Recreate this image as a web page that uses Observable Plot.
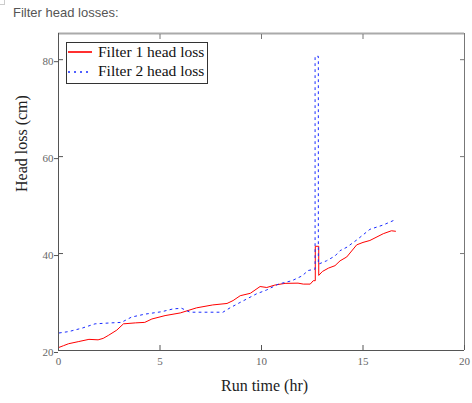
<!DOCTYPE html>
<html><head><meta charset="utf-8">
<script src="https://cdn.jsdelivr.net/npm/d3@7"></script>
<script src="https://cdn.jsdelivr.net/npm/@observablehq/plot@0.6"></script>
<style>
body{margin:0;background:#fff;width:472px;height:403px;overflow:hidden;position:relative}
#corner{position:absolute;left:0;top:0;width:4px;height:4px;border-right:1px solid #ccc;border-bottom:1px solid #ccc}
#title{position:absolute;left:13px;top:5px;font:13px "Liberation Sans",Arial,sans-serif;color:#555}
#chart{position:absolute;left:0;top:26px}
#legend{position:absolute;left:66px;top:42px;width:140px;height:40px;border:1px solid #333;background:#fff;font-family:"Liberation Serif",serif;font-size:15.5px;color:#111}
.sw{position:absolute;left:1px;width:24px;height:2px}
.lt{position:absolute;left:31px;line-height:18px;white-space:nowrap}
</style></head>
<body>
<div id="corner"></div>
<div id="title">Filter head losses:</div>
<div id="chart"></div>
<div id="legend"></div>
<script>
const titleText = "Filter head losses:";
const seriesNames = ["Filter 1 head loss", "Filter 2 head loss"];
const seriesColors = ["#ff0000", "#1a2cff"];
const swatchColors = ["#ff3030", "#5060ff"];
const xLabel = "Run time (hr)";
const yLabel = "Head loss (cm)";
const xTicks = [0, 5, 10, 15, 20];
const yTicks = [20, 40, 60, 80];
const xDomain = [0, 20];
const yDomain = [20, 85.4];

const filter1Time = [0, 0, 0.25, 0.5, 1.0, 1.5, 1.95, 2.2, 2.45, 2.87, 3.2, 3.8, 4.25, 4.6, 5.25, 6.0, 6.8, 7.6, 8.3, 8.6, 8.95, 9.45, 9.93, 10.26, 10.66, 11.16, 11.8, 12.06, 12.4, 12.55, 12.65, 12.65, 12.82, 12.82, 13.0, 13.3, 13.62, 13.87, 14.2, 14.69, 15.0, 15.34, 16.0, 16.4, 16.6];
const filter1Loss = [42, 20.6, 21.0, 21.4, 21.85, 22.3, 22.2, 22.5, 23.1, 24.2, 25.5, 25.7, 25.8, 26.5, 27.2, 27.75, 28.8, 29.4, 29.7, 30.3, 31.3, 31.8, 33.2, 33.0, 33.5, 33.85, 33.9, 33.7, 33.7, 34.4, 34.4, 41.5, 41.5, 35.5, 36.3, 37.0, 37.5, 38.5, 39.3, 41.8, 42.3, 42.7, 44.1, 44.7, 44.6];

const filter2Time = [0, 0, 0.5, 1.15, 1.8, 2.6, 3.1, 3.6, 4.26, 5.08, 5.66, 6.07, 6.48, 8.1, 8.45, 8.94, 9.76, 10.26, 10.83, 11.5, 12.0, 12.3, 12.64, 12.64, 12.8, 12.8, 13.2, 13.62, 13.87, 14.2, 14.69, 15.34, 16.0, 16.6];
const filter2Loss = [42, 23.6, 23.9, 24.6, 25.5, 25.7, 25.8, 26.9, 27.5, 28.0, 28.6, 28.7, 27.9, 27.9, 28.8, 29.9, 31.7, 32.5, 33.7, 34.4, 35.4, 36.5, 36.8, 80.7, 80.7, 37.8, 38.5, 39.5, 40.6, 41.3, 42.8, 45.0, 45.9, 47.0];

const filter1 = filter1Time.map((t, i) => ({t, v: filter1Loss[i]}));
const filter2 = filter2Time.map((t, i) => ({t, v: filter2Loss[i]}));

document.getElementById("title").textContent = titleText;

const blank = () => "";
const chart = Plot.plot({
  width: 472, height: 377,
  marginTop: 7, marginBottom: 53, marginLeft: 58, marginRight: 8,
  x: {domain: xDomain},
  y: {domain: yDomain},
  style: {fontFamily: "'Liberation Serif', 'Times New Roman', serif", background: "white", overflow: "visible"},
  marks: [
    Plot.ruleY([yDomain[1]], {stroke: "#aaa", strokeWidth: 2}),
    Plot.ruleX([xDomain[1]], {stroke: "#777"}),
    Plot.line(filter1, {x: "t", y: "v", stroke: seriesColors[0], strokeWidth: 1}),
    Plot.line(filter2, {x: "t", y: "v", stroke: seriesColors[1], strokeWidth: 1, strokeDasharray: "2,4"}),
    Plot.ruleX([xDomain[0]], {stroke: "#555"}),
    Plot.ruleY([yDomain[0]], {stroke: "#555"}),
    Plot.axisX(xTicks, {anchor: "bottom", tickSize: -5, tickFormat: blank, label: null, stroke: "#555"}),
    Plot.axisX(xTicks, {anchor: "bottom", tickSize: 0, tickPadding: 7, fontSize: 11, color: "#666", label: null}),
    Plot.axisX(xTicks.slice(1, -1), {anchor: "top", tickSize: -5, tickFormat: blank, label: null, stroke: "#777"}),
    Plot.axisY(yTicks, {anchor: "left", tickSize: 4, tickPadding: 1, fontSize: 11, color: "#666", stroke: "#555", label: null, dy: 2}),
    Plot.axisY(yTicks, {anchor: "left", tickSize: -5, tickFormat: blank, label: null, stroke: "#555"}),
    Plot.axisY(yTicks.slice(1), {anchor: "right", tickSize: -5, tickFormat: blank, label: null, stroke: "#777"}),
    Plot.text([xLabel], {text: d => d, frameAnchor: "bottom", dy: 40, dx: 3, fontSize: 16, fill: "#222"}),
    Plot.text([yLabel], {text: d => d, frameAnchor: "left", dx: -37, rotate: -90, fontSize: 16, fill: "#222"})
  ]
});
document.getElementById("chart").appendChild(chart);

// legend (HTML)
const legend = document.getElementById("legend");
seriesNames.forEach((name, i) => {
  const sw = document.createElement("div");
  sw.className = "sw";
  sw.style.top = (8 + i * 20) + "px";
  sw.style.background = i === 0
    ? swatchColors[i]
    : "repeating-linear-gradient(to right, " + swatchColors[i] + " 0 2px, transparent 2px 6px)";
  legend.appendChild(sw);
  const tx = document.createElement("div");
  tx.className = "lt";
  tx.style.top = (0 + i * 19) + "px";
  tx.textContent = name;
  legend.appendChild(tx);
});
</script>
</body></html>
